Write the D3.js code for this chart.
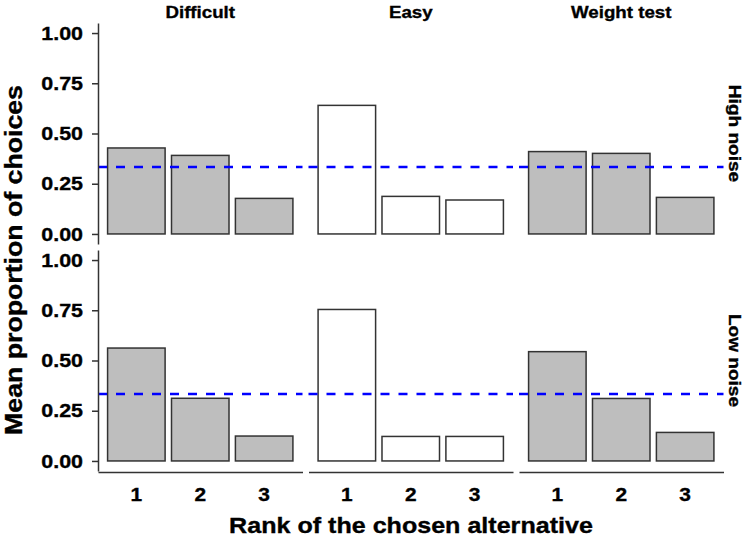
<!DOCTYPE html>
<html>
<head>
<meta charset="utf-8">
<script src="https://cdn.jsdelivr.net/npm/d3@7"></script>
<style>
  body { margin: 0; background: #fff; }
  text { font-family: "Liberation Sans", Arial, sans-serif; font-weight: bold; fill: #000; stroke: #000; stroke-width: 0.35px; }
</style>
</head>
<body>
<svg id="chart"></svg>
<script>
const conditions = ["Difficult", "Easy", "Weight test"];
const noiseLevels = ["High noise", "Low noise"];
const ranks = ["1", "2", "3"];
const yTicks = [0, 0.25, 0.5, 0.75, 1];
const chance = 1 / 3;

// mean proportion of choices for rank 1,2,3
const highNoise = {
  "Difficult":   [0.428, 0.391, 0.177],
  "Easy":        [0.640, 0.187, 0.169],
  "Weight test": [0.410, 0.401, 0.182]
};
const lowNoise = {
  "Difficult":   [0.562, 0.312, 0.124],
  "Easy":        [0.754, 0.122, 0.122],
  "Weight test": [0.544, 0.311, 0.142]
};
const fills = { "Difficult": "#bebebe", "Easy": "#ffffff", "Weight test": "#bebebe" };

const width = 743, height = 540;
const svg = d3.select("#chart").attr("width", width).attr("height", height);

// stretch text along its direction a bit, the reference glyphs are wide
function widen(sel, k) {
  sel.each(function () {
    const w = this.getComputedTextLength();
    d3.select(this).attr("textLength", w * k).attr("lengthAdjust", "spacingAndGlyphs");
  });
}

const panelX = d3.scaleBand().domain(conditions).range([98, 723.5]).paddingInner(0.0285);
const rows = { "High noise": [23, 244], "Low noise": [250, 471] };
const x = d3.scaleBand().domain(ranks).range([0, panelX.bandwidth()]).paddingInner(0.1).paddingOuter(0.15);

noiseLevels.forEach((noise, r) => {
  const data = r === 0 ? highNoise : lowNoise;
  const [top, bottom] = rows[noise];
  const y = d3.scaleLinear().domain([-0.05, 1.05]).range([bottom, top]);

  conditions.forEach(cond => {
    const g = svg.append("g").attr("transform", `translate(${panelX(cond)},0)`);
    const vals = data[cond].map((v, i) => ({ rank: ranks[i], value: v }));

    g.selectAll("rect")
      .data(vals)
      .enter()
      .append("rect")
      .attr("x", d => x(d.rank))
      .attr("width", x.bandwidth())
      .attr("y", d => y(d.value))
      .attr("height", d => y(0) - y(d.value))
      .attr("fill", fills[cond])
      .attr("stroke", "#333")
      .attr("stroke-width", 1.5);

    g.append("line")
      .attr("x1", 0).attr("x2", panelX.bandwidth())
      .attr("y1", y(chance)).attr("y2", y(chance))
      .attr("stroke", "#0000ff")
      .attr("stroke-width", 2.5)
      .attr("stroke-dasharray", "9,9");

    if (r === 1) {
      // x axis only on bottom row
      const ax = g.append("g")
        .attr("transform", `translate(0,${bottom + 1})`)
        .call(d3.axisBottom(x).tickSize(0).tickPadding(16));
      ax.select(".domain").attr("stroke", "#333").attr("stroke-width", 1.5);
      ax.selectAll("text").attr("font-size", 19).attr("fill", "#000")
        .style("font-family", "Liberation Sans, Arial, sans-serif").style("font-weight", "bold")
        .call(widen, 1.1);
    }
    if (r === 0) {
      svg.append("text")
        .attr("x", panelX(cond) + panelX.bandwidth() / 2)
        .attr("y", 18)
        .attr("text-anchor", "middle")
        .attr("font-size", 17)
        .text(cond)
        .call(widen, 1.1);
    }
  });

  // y axis on first column
  const ay = svg.append("g")
    .attr("transform", `translate(98,0)`)
    .call(d3.axisLeft(y).tickValues(yTicks).tickSize(6).tickPadding(9).tickFormat(d3.format(".2f")).tickSizeOuter(0));
  ay.select(".domain").attr("stroke", "#333").attr("stroke-width", 1.5);
  ay.selectAll(".tick line").attr("stroke", "#333").attr("stroke-width", 1.5);
  ay.selectAll("text").attr("font-size", 19).attr("fill", "#000")
    .style("font-family", "Liberation Sans, Arial, sans-serif").style("font-weight", "bold")
    .call(widen, 1.13);

  // row strip label on the right
  svg.append("text")
    .attr("transform", `translate(729,${(top + bottom) / 2}) rotate(90)`)
    .attr("text-anchor", "middle")
    .attr("font-size", 17)
    .text(noise)
    .call(widen, 1.12);
});

svg.append("text")
  .attr("transform", `translate(22,260) rotate(-90)`)
  .attr("text-anchor", "middle")
  .attr("font-size", 23)
  .text("Mean proportion of choices")
  .call(widen, 1.16);

svg.append("text")
  .attr("x", 411)
  .attr("y", 533)
  .attr("text-anchor", "middle")
  .attr("font-size", 22)
  .text("Rank of the chosen alternative")
  .call(widen, 1.14);
</script>
</body>
</html>
